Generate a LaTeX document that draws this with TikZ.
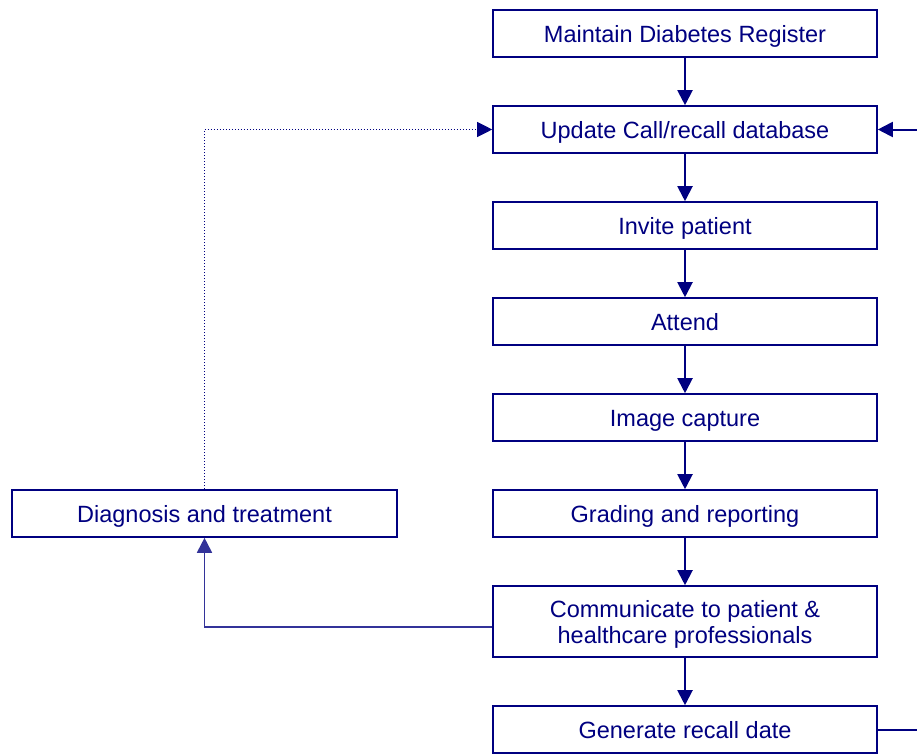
\documentclass[tikz,border=0pt]{standalone}
\usepackage{fontspec}
\setmainfont{Liberation Sans}
\usetikzlibrary{arrows.meta}
\definecolor{navy}{RGB}{0,0,128}
\definecolor{lnavy}{RGB}{51,51,153}
\begin{document}
\begin{tikzpicture}[x=1pt,y=-1pt,
  box/.style={draw=navy,line width=1.6pt,minimum width=384pt,minimum height=47pt,inner sep=0pt,
    text=navy,font=\fontsize{23.5}{26}\selectfont,align=center,text height=17pt,text depth=0pt},
  flow/.style={draw=navy,line width=2pt,-{Triangle[width=15pt,length=15pt]}},
  back/.style={draw=lnavy,line width=1.8pt,-{Triangle[width=15pt,length=15pt]}},
  dotline/.style={draw=navy,line width=1pt,dotted,-{Triangle[width=15pt,length=15pt]}}]
\useasboundingbox (0,0) rectangle (917,753);
\node[box] (reg) at (685,33.5) {Maintain Diabetes Register};
\node[box] (upd) at (685,129.5) {Update Call/recall database};
\node[box] (inv) at (685,225.5) {Invite patient};
\node[box] (att) at (685,321.5) {Attend};
\node[box] (img) at (685,417.5) {Image capture};
\node[box] (gra) at (685,513.5) {Grading and reporting};
\node[box,minimum height=71pt,text height=43pt] (com) at (685,621.5) {Communicate to patient \&\\healthcare professionals};
\node[box] (gen) at (685,729.5) {Generate recall date};
\node[box,minimum width=385pt] (dia) at (204.5,513.5) {Diagnosis and treatment};
\draw[flow] (reg) -- (upd);
\draw[flow] (upd) -- (inv);
\draw[flow] (inv) -- (att);
\draw[flow] (att) -- (img);
\draw[flow] (img) -- (gra);
\draw[flow] (gra) -- (com);
\draw[flow] (com) -- (gen);
\draw[back] ([yshift=-5.5pt]com.west) -| (dia.south);
\draw[dotline] (dia.north) |- (upd.west);
\coordinate (rt) at (940,729.5);
\draw[flow] (gen.east) -- (rt) |- (upd.east);
\end{tikzpicture}
\end{document}
